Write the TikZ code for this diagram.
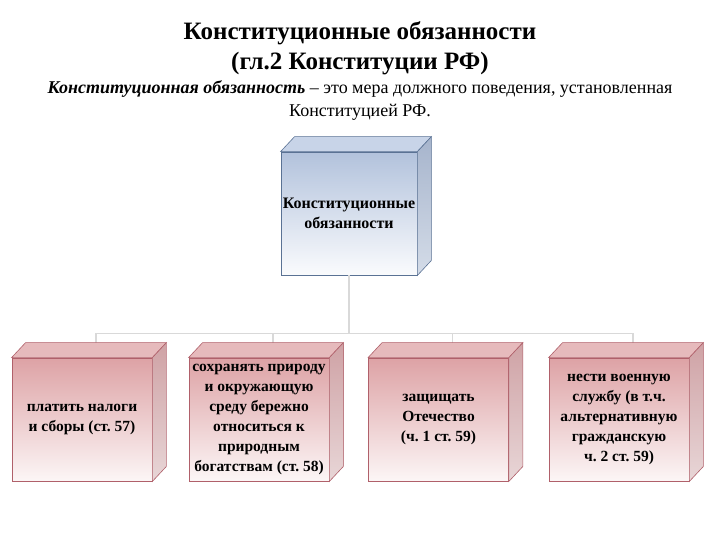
\documentclass[tikz,border=0pt]{standalone}
\usepackage{fontspec}
\setmainfont{Liberation Serif}
\usetikzlibrary{calc}
\definecolor{redtop}{HTML}{DDA2A5}
\definecolor{redbot}{HTML}{FCF6F6}
\definecolor{rededge}{HTML}{B0606A}
\definecolor{redlid}{HTML}{E6BABC}
\definecolor{redsidetop}{HTML}{CFA2A5}
\definecolor{redsidebot}{HTML}{E8D6D7}
\definecolor{bluetop}{HTML}{B2C2DC}
\definecolor{bluebot}{HTML}{FAFBFD}
\definecolor{blueedge}{HTML}{5A7294}
\definecolor{bluelid}{HTML}{C8D4E8}
\definecolor{bluesidetop}{HTML}{A6B4CC}
\definecolor{bluesidebot}{HTML}{D4DCE8}
\definecolor{connc}{HTML}{D9D9D9}
\tikzset{
  redbox/.style={rectangle, draw=rededge, line width=0.8pt, top color=redtop, bottom color=redbot,
    minimum width=140, minimum height=123, inner sep=0pt, align=center,
    font=\fontsize{15.5}{20}\selectfont\bfseries\frenchspacing},
  bluebox/.style={rectangle, draw=blueedge, line width=0.8pt, top color=bluetop, bottom color=bluebot,
    minimum width=136, minimum height=123, inner sep=0pt, align=center,
    font=\fontsize{16}{20}\selectfont\bfseries},
  conn/.style={draw=connc, line width=1.6pt},
}
\newcommand{\redcube}[1]{%
  \path[draw=rededge, line width=0.6pt, fill=redlid] (#1.north west) -- ++(14,-15) -- ($(#1.north east)+(14,-15)$) -- (#1.north east) -- cycle;
  \path[draw=rededge, line width=0.6pt, top color=redsidetop, bottom color=redsidebot] (#1.north east) -- ++(14,-15) -- ($(#1.south east)+(14,-15)$) -- (#1.south east) -- cycle;
}
\newcommand{\bluecube}[1]{%
  \path[draw=blueedge, line width=0.6pt, fill=bluelid] (#1.north west) -- ++(14,-15) -- ($(#1.north east)+(14,-15)$) -- (#1.north east) -- cycle;
  \path[draw=blueedge, line width=0.6pt, top color=bluesidetop, bottom color=bluesidebot] (#1.north east) -- ++(14,-15) -- ($(#1.south east)+(14,-15)$) -- (#1.south east) -- cycle;
}
\begin{document}
\begin{tikzpicture}[x=1pt,y=-1pt]
\useasboundingbox (0,0) rectangle (720,540);
\fill[white] (0,0) rectangle (720,540);

% titles
\node[align=center, font=\fontsize{25}{30}\selectfont\bfseries] (title) at (360,48)
  {Конституционные обязанности\\(гл.2 Конституции РФ)};
\node[align=center, font=\fontsize{18}{23}\selectfont\frenchspacing] (def) at (360,101)
  {\textbf{\textit{Конституционная обязанность}} – это мера должного поведения, установленная\\Конституцией РФ.};

% boxes (front faces)
\node[bluebox] (top) at (349,213.5) {Конституционные\\обязанности};
\node[redbox] (f1) at (82,419.5) {платить налоги\\и сборы (ст. 57)};
\node[redbox] (f2) at (259,419.5) {сохранять природу\\и окружающую\\среду бережно\\относиться к\\природным\\богатствам (ст. 58)};
\node[redbox] (f3) at (438.5,419.5) {защищать\\Отечество\\(ч. 1 ст. 59)};
\node[redbox] (f4) at (619,419.5) {нести военную\\службу (в т.ч.\\альтернативную\\гражданскую\\ч. 2 ст. 59)};

% connectors
\coordinate (hub) at ($(top.south)+(0,58)$);
\coordinate (b1) at ($(f1.north)+(14,-15)$);
\coordinate (b2) at ($(f2.north)+(14,-15)$);
\coordinate (b3) at ($(f3.north)+(14,-15)$);
\coordinate (b4) at ($(f4.north)+(14,-15)$);
\draw[conn] (top.south) -- (hub);
\draw[conn] (b1) -- (b1 |- hub) -- (b4 |- hub) -- (b4);
\draw[conn] (b2) -- (b2 |- hub);
\draw[conn] (b3) -- (b3 |- hub);

% 3D faces
\bluecube{top}
\redcube{f1}
\redcube{f2}
\redcube{f3}
\redcube{f4}
\end{tikzpicture}
\end{document}
